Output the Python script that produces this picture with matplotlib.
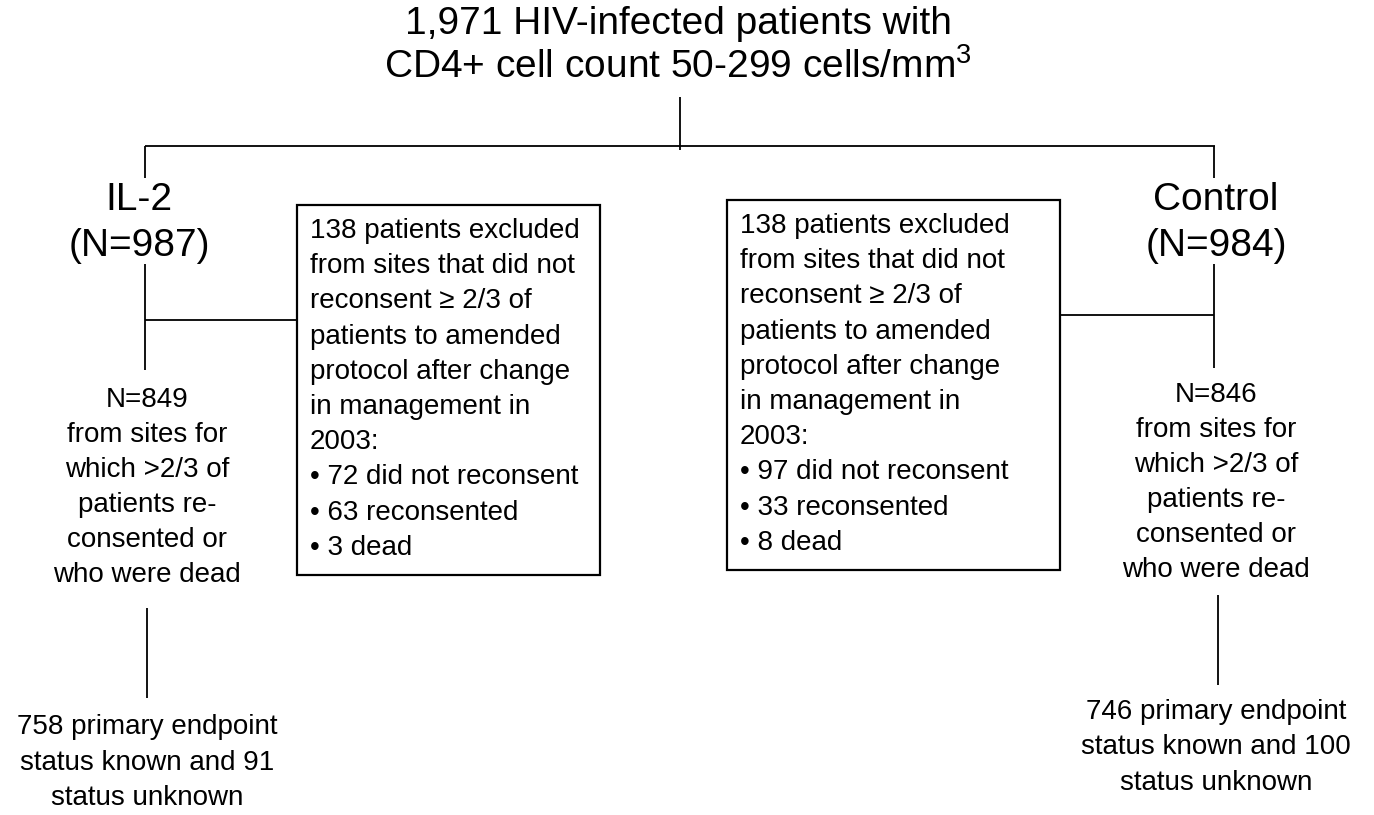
import matplotlib.pyplot as plt
from matplotlib.patches import Rectangle

plt.rcParams['font.family'] = ['Liberation Sans', 'DejaVu Sans']
plt.rcParams['mathtext.fontset'] = 'custom'
plt.rcParams['mathtext.rm'] = 'Liberation Sans'
plt.rcParams['mathtext.it'] = 'Liberation Sans'

# テキストデータ
title_lines = ["1,971 HIV-infected patients with",
               "CD4+ cell count 50-299 cells/mm$^3$"]
arm_names = ["IL-2", "Control"]
arm_n = [987, 984]
excluded_total = [138, 138]
not_reconsent = [72, 97]
reconsented = [63, 33]
dead = [3, 8]
kept_n = [849, 846]
known = [758, 746]
unknown = [91, 100]

# レイアウト（ピクセル座標）
fig = plt.figure(figsize=(13.74, 8.15), dpi=100)
ax = fig.add_axes([0, 0, 1, 1])
ax.set_xlim(0, 1374)
ax.set_ylim(815, 0)
ax.axis('off')

lw = 1.3
big = 28
small = 20

def line(x0, y0, x1, y1):
    ax.plot([x0, x1], [y0, y1], color='black', lw=lw, solid_capstyle='butt')

# タイトル
ax.text(678, 24, title_lines[0], fontsize=big, ha='center', va='center')
ax.text(678, 67, title_lines[1], fontsize=big, ha='center', va='center')

# 分岐線
line(680, 97, 680, 150)
line(145, 146, 1215, 146)

arm_x = [145, 1214]
label_x = [139, 1216]
box_x = [(297, 600), (727, 1060)]
box_y = [(205, 575), (200, 570)]
conn_y = [320, 315]
sub_y = [400, 395]
low_line = [(608, 698), (595, 685)]
end_y = [727, 712]

for i in range(2):
    x = arm_x[i]
    line(x, 146, x, 178)
    ax.text(label_x[i], 200, arm_names[i], fontsize=big, ha='center', va='center')
    ax.text(label_x[i], 246, f"(N={arm_n[i]})", fontsize=big, ha='center', va='center')

    # 除外ボックス
    bx0, bx1 = box_x[i]
    by0, by1 = box_y[i]
    ax.add_patch(Rectangle((bx0, by0), bx1 - bx0, by1 - by0, fill=False,
                           edgecolor='black', lw=lw + 0.3))
    box_lines = [f"{excluded_total[i]} patients excluded",
                 "from sites that did not",
                 "reconsent \u2265 2/3 of",
                 "patients to amended",
                 "protocol after change",
                 "in management in",
                 "2003:",
                 f"\u2022 {not_reconsent[i]} did not reconsent",
                 f"\u2022 {reconsented[i]} reconsented",
                 f"\u2022 {dead[i]} dead"]
    for k, t in enumerate(box_lines):
        ax.text(bx0 + 13, by0 + 26 + k * 35.2, t, fontsize=small, ha='left', va='center')

    # 接続線
    line(x, 264, x, 370 if i == 0 else 368)
    if i == 0:
        line(x, conn_y[i], bx0, conn_y[i])
    else:
        line(bx1, conn_y[i], x, conn_y[i])

    sub_lines = [f"N={kept_n[i]}", "from sites for", "which >2/3 of",
                 "patients re-", "consented or", "who were dead"]
    for k, t in enumerate(sub_lines):
        ax.text(x + 2, sub_y[i] + k * 35, t, fontsize=small, ha='center', va='center')

    lx = x + (2 if i == 0 else 4)
    line(lx, low_line[i][0], lx, low_line[i][1])
    end_lines = [f"{known[i]} primary endpoint",
                 f"status known and {unknown[i]}",
                 "status unknown"]
    for k, t in enumerate(end_lines):
        ax.text(x + 2, end_y[i] + k * 35.5, t, fontsize=small, ha='center', va='center')

fig.savefig('out.png', dpi=100)
